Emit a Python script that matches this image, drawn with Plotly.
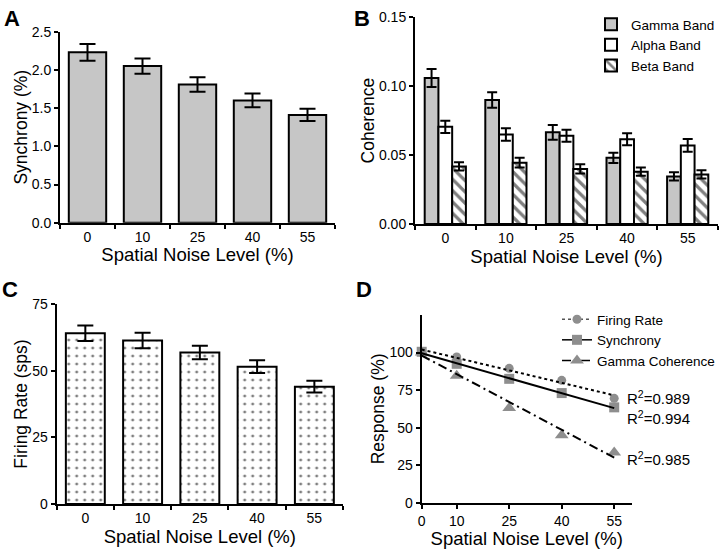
import plotly.graph_objects as go

# Values
noise_labels = ["0", "10", "25", "40", "55"]
noise_levels = [0, 10, 25, 40, 55]

sync_mean = [2.23, 2.05, 1.81, 1.60, 1.41]
sync_err = [0.11, 0.10, 0.095, 0.09, 0.08]

gamma_mean = [0.106, 0.090, 0.0665, 0.048, 0.0345]
gamma_err = [0.0065, 0.0057, 0.0054, 0.0037, 0.003]
alpha_mean = [0.0705, 0.065, 0.064, 0.0615, 0.057]
alpha_err = [0.0045, 0.0045, 0.0044, 0.0044, 0.0046]
beta_mean = [0.0418, 0.0445, 0.040, 0.038, 0.036]
beta_err = [0.003, 0.0035, 0.0033, 0.003, 0.003]

rate_mean = [64.0, 61.3, 56.8, 51.5, 44.0]
rate_err = [2.9, 2.9, 2.5, 2.4, 2.2]

resp_rate = [100, 97, 89.5, 81.5, 69.5]
resp_sync = [100.5, 92.5, 82.5, 73, 63.5]
resp_gamma = [100, 84.5, 63, 45, 33.5]

fit_x = [0, 55]
fit_rate = [102, 71.5]
fit_sync = [99.5, 63]
fit_gamma = [98, 30]

r2_labels = ["R<sup>2</sup>=0.989", "R<sup>2</sup>=0.994", "R<sup>2</sup>=0.985"]
r2_y = [70, 57, 29.5]

W, H = 720, 551
FONT = "Liberation Sans, Arial, Helvetica, sans-serif"
GREY = "#c6c6c6"
MARK = "#8e8e8e"


def px_x(a, b):
    return [a / W, b / W]


def px_y(top, bottom):
    return [1 - bottom / H, 1 - top / H]


def err(arr, w):
    return dict(type="data", array=arr, color="black", thickness=2, width=w)


fig = go.Figure()

# A: synchrony
fig.add_trace(go.Bar(
    x=noise_labels, y=sync_mean, error_y=err(sync_err, 8),
    marker=dict(color=GREY, line=dict(color="black", width=2)),
    xaxis="x", yaxis="y", showlegend=False,
))

# B: coherence by band
fig.add_trace(go.Bar(
    x=noise_labels, y=gamma_mean, error_y=err(gamma_err, 5), name="Gamma Band",
    marker=dict(color=GREY, line=dict(color="black", width=2)),
    xaxis="x2", yaxis="y2", legend="legend",
))
fig.add_trace(go.Bar(
    x=noise_labels, y=alpha_mean, error_y=err(alpha_err, 5), name="Alpha Band",
    marker=dict(color="white", line=dict(color="black", width=2)),
    xaxis="x2", yaxis="y2", legend="legend",
))
fig.add_trace(go.Bar(
    x=noise_labels, y=beta_mean, error_y=err(beta_err, 5), name="Beta Band",
    marker=dict(color="white", line=dict(color="black", width=2),
                pattern=dict(shape="\\", fgcolor="black", bgcolor="white",
                             size=8, solidity=0.4)),
    xaxis="x2", yaxis="y2", legend="legend",
))

# C: firing rate
fig.add_trace(go.Bar(
    x=noise_labels, y=rate_mean, error_y=err(rate_err, 8),
    marker=dict(color="white", line=dict(color="black", width=2),
                pattern=dict(shape=".", fgcolor="black", bgcolor="white",
                             size=8, solidity=0.11)),
    xaxis="x3", yaxis="y3", showlegend=False,
))

# D: normalised response with linear fits
series = [
    ("Firing Rate", resp_rate, fit_rate, "circle", 9, "3px,3px"),
    ("Gamma Coherence", resp_gamma, fit_gamma, "triangle-up", 12, "9px,4px,2px,4px"),
    ("Synchrony", resp_sync, fit_sync, "square", 10, "solid"),
]
for name, pts, fit, sym, size, dash in series:
    fig.add_trace(go.Scatter(
        x=noise_levels, y=pts, mode="markers",
        marker=dict(symbol=sym, size=size, color=MARK),
        xaxis="x4", yaxis="y4", showlegend=False, cliponaxis=False,
    ))
for name, pts, fit, sym, size, dash in series:
    fig.add_trace(go.Scatter(
        x=fit_x, y=fit, mode="lines",
        line=dict(color="black", width=2, dash=dash),
        xaxis="x4", yaxis="y4", showlegend=False,
    ))
# legend entries (line + marker) for panel D
for name in ["Firing Rate", "Synchrony", "Gamma Coherence"]:
    _, pts, fit, sym, size, dash = [s for s in series if s[0] == name][0]
    fig.add_trace(go.Scatter(
        x=[None], y=[None], mode="lines+markers", name=name,
        marker=dict(symbol=sym, size=size, color=MARK),
        line=dict(color="#555" if name == "Firing Rate" else "black",
                  width=1.5, dash=dash),
        xaxis="x4", yaxis="y4", legend="legend2",
    ))

tickfont = dict(family=FONT, size=14, color="black")
titlefont = dict(family=FONT, size=18.5, color="black")
ytitlefont = dict(family=FONT, size=17.5, color="black")
common = dict(showline=True, linecolor="black", linewidth=2, ticks="outside",
              ticklen=4, tickwidth=2, tickcolor="black", showgrid=False,
              zeroline=False, tickfont=tickfont, automargin=False)


def xtitle(gap):
    return dict(text="Spatial Noise Level (%)", font=titlefont, standoff=gap)


fig.update_layout(
    width=W, height=H,
    margin=dict(l=0, r=0, t=0, b=0),
    paper_bgcolor="white", plot_bgcolor="white",
    font=dict(family=FONT, color="black"),
    barmode="group", bargap=0.32, bargroupgap=0,
    xaxis=dict(domain=px_x(60, 335), anchor="y", tickson="boundaries",
               title=xtitle(0), **common),
    yaxis=dict(domain=px_y(31.7, 222.7), anchor="x", range=[0, 2.5],
               dtick=0.5, tickformat=".1f",
               title=dict(text="Synchrony (%)", font=ytitlefont, standoff=0),
               **common),
    xaxis2=dict(domain=px_x(415, 718), anchor="y2", tickson="boundaries",
                title=xtitle(2), **common),
    yaxis2=dict(domain=px_y(17.3, 224), anchor="x2", range=[0, 0.15],
                dtick=0.05, tickformat=".2f",
                title=dict(text="Coherence", font=ytitlefont, standoff=0),
                **common),
    xaxis3=dict(domain=px_x(56.7, 343), anchor="y3", tickson="boundaries",
                title=xtitle(5), **common),
    yaxis3=dict(domain=px_y(304, 504), anchor="x3", range=[0, 75],
                dtick=25,
                title=dict(text="Firing Rate (sps)", font=ytitlefont, standoff=0),
                **common),
    xaxis4=dict(domain=px_x(421.7, 631.7), anchor="y4", range=[0, 60],
                tickvals=noise_levels, title=xtitle(4), **common),
    yaxis4=dict(domain=px_y(315, 502.7), anchor="x4", range=[0, 125],
                tickvals=[0, 25, 50, 75, 100],
                title=dict(text="Response (%)", font=ytitlefont, standoff=0),
                **common),
    # right-anchored at the figure edge so the legends never push the margins
    legend=dict(x=1, y=1 - 9 / H, xanchor="right", yanchor="top",
                font=dict(family=FONT, size=13.5, color="black"),
                bgcolor="rgba(0,0,0,0)", itemwidth=30, tracegroupgap=0),
    legend2=dict(x=1, y=1 - 304 / H, xanchor="right", yanchor="top",
                 font=dict(family=FONT, size=13.5, color="black"),
                 bgcolor="rgba(0,0,0,0)", itemwidth=30),
)

for letter, lx, ly in [("A", 2, 4), ("B", 352, 4), ("C", 0, 275), ("D", 354, 275)]:
    fig.add_annotation(text="<b>%s</b>" % letter, xref="paper", yref="paper",
                       x=lx / W, y=1 - ly / H, xanchor="left", yanchor="top",
                       showarrow=False, font=dict(family=FONT, size=22, color="black"))

for txt, yv in zip(r2_labels, r2_y):
    fig.add_annotation(text=txt, xref="x4", yref="y4", x=58.2, y=yv,
                       xanchor="left", yanchor="middle", showarrow=False,
                       font=dict(family=FONT, size=15, color="black"))

# page body margin would otherwise offset the 720x551 figure by 8px
fig.write_html("out.html", config={"displayModeBar": False},
               post_script="document.body.style.margin='0';")
